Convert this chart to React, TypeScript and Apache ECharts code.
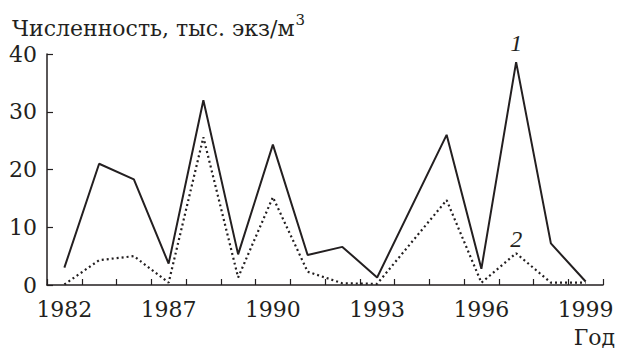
import React, { useEffect, useRef } from "react";
import * as echarts from "echarts";

const years = ["1982", "1983", "1985", "1987", "1988", "1989", "1990", "1991", "1992", "1993", "1994", "1995", "1996", "1997", "1998", "1999"];
const series1 = [3.0, 21.0, 18.3, 3.7, 32.0, 5.3, 24.3, 5.2, 6.6, 1.3, null, 26.0, 2.8, 38.6, 7.2, 0.6];
const series2 = [0.1, 4.3, 5.0, 0.4, 25.6, 1.3, 15.2, 2.3, 0.3, 0.2, null, 14.7, 0.4, 5.5, 0.4, 0.4];
const seriesNames = ["1", "2"];
const labelIndex = 13;
const yMin = 0;
const yMax = 40;
const yStep = 10;

const FONT = "DejaVu Serif";
const ITALIC_FONT = "'Liberation Serif', serif";
const INK = "#231f20";
const SIZE = 22;

function withLabel(values: (number | null)[], name: string, distance: number) {
  return values.map((v, i) =>
    i === labelIndex
      ? {
          value: v,
          label: {
            show: true,
            position: "top",
            distance,
            formatter: name,
            fontFamily: ITALIC_FONT,
            fontStyle: "italic",
            fontSize: 24,
            color: INK,
          },
        }
      : v
  );
}

export default function App() {
  const ref = useRef<HTMLDivElement>(null);
  useEffect(() => {
    if (!ref.current) return;
    const chart = echarts.init(ref.current, undefined, { renderer: "svg" });
    chart.setOption({
      animation: false,
      backgroundColor: "#ffffff",
      textStyle: { fontFamily: FONT },
      grid: { left: 47, right: 15, top: 54, bottom: 66, containLabel: false },
      xAxis: {
        type: "category",
        data: years,
        boundaryGap: true,
        axisLine: { lineStyle: { color: INK, width: 1.5 } },
        axisTick: { show: true, inside: true, length: 6, interval: 0, lineStyle: { color: INK, width: 1.2 } },
        axisLabel: { interval: 2, margin: 13, fontFamily: FONT, fontSize: SIZE, color: INK },
        splitLine: { show: false },
      },
      yAxis: {
        type: "value",
        min: yMin,
        max: yMax,
        interval: yStep,
        axisLine: { show: true, lineStyle: { color: INK, width: 1.5 } },
        axisTick: { show: true, inside: true, length: 6, lineStyle: { color: INK, width: 1.2 } },
        axisLabel: { margin: 10, fontFamily: FONT, fontSize: SIZE, color: INK },
        splitLine: { show: false },
      },
      graphic: [
        {
          type: "text",
          left: 12,
          top: 12,
          style: {
            text: "{m|Численность, тыс. экз/м}{s|3}",
            font: SIZE + "px " + FONT,
            fill: INK,
            rich: {
              m: { fontFamily: FONT, fontSize: SIZE, fill: INK, verticalAlign: "bottom", lineHeight: 27 },
              s: { fontFamily: FONT, fontSize: 15, fill: INK, verticalAlign: "top", lineHeight: 27, padding: [0, 0, 12, 1] },
            },
          },
        },
        {
          type: "text",
          right: 3,
          top: 326,
          style: { text: "Год", font: SIZE + "px " + FONT, fill: INK },
        },
      ],
      series: [
        {
          name: seriesNames[0],
          type: "line",
          data: withLabel(series1, seriesNames[0], 7),
          connectNulls: true,
          symbol: "circle",
          symbolSize: 0,
          showSymbol: true,
          lineStyle: { color: INK, width: 2, type: "solid" },
        },
        {
          name: seriesNames[1],
          type: "line",
          data: withLabel(series2, seriesNames[1], 2),
          connectNulls: true,
          symbol: "circle",
          symbolSize: 0,
          showSymbol: true,
          lineStyle: { color: INK, width: 2.2, type: [2, 3] },
        },
      ],
    });
    return () => chart.dispose();
  }, []);
  return <div ref={ref} style={{ width: 618, height: 351, position: "absolute", left: 0, top: 0 }} />;
}
